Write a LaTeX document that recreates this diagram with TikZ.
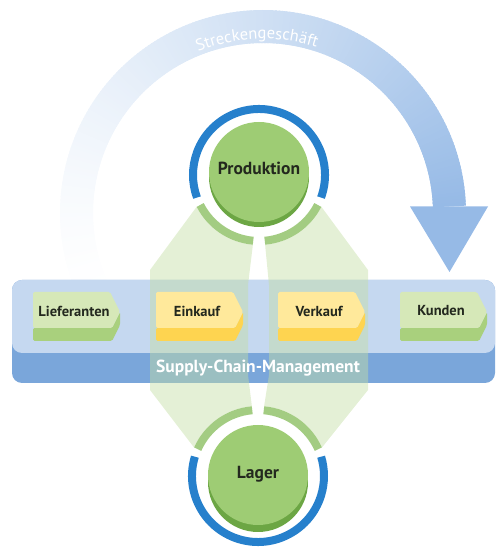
\documentclass[tikz,border=0pt]{standalone}
\usepackage{fontspec}
\setmainfont{PT Sans}
\usetikzlibrary{calc,decorations.text}

\definecolor{arcblue}{RGB}{150,186,230}
\definecolor{bandlight}{RGB}{197,216,240}
\definecolor{banddark}{RGB}{122,166,218}
\definecolor{ringblue}{RGB}{38,128,204}
\definecolor{ringgreen}{RGB}{163,204,130}
\definecolor{hexgreen}{RGB}{196,222,164}
\definecolor{disctop}{RGB}{158,204,116}
\definecolor{discrim}{RGB}{108,166,68}
\definecolor{boxgreen}{RGB}{214,232,184}
\definecolor{boxgreendark}{RGB}{169,208,125}
\definecolor{boxyellow}{RGB}{255,233,155}
\definecolor{boxyellowdark}{RGB}{254,212,80}
\definecolor{inktext}{RGB}{35,40,30}

\begin{document}
\begin{tikzpicture}[x=1pt, y=1pt]
    \tikzstyle{every node} = [align=center, inner sep=0pt, text=inktext]
    \tikzstyle{boxtext} = [font=\bfseries\fontsize{14.5}{14.5}\selectfont]
    \tikzstyle{disctext} = [font=\bfseries\fontsize{17.5}{17.5}\selectfont]
    \tikzstyle{bandtext} = [font=\bfseries\fontsize{17.5}{17.5}\selectfont, text=white]
    \tikzstyle{arcband} = [line width=33pt]
    \tikzstyle{bluering} = [draw=ringblue, line width=8pt]
    \tikzstyle{greenring} = [draw=ringgreen, line width=8pt]
    \tikzstyle{hex} = [fill=hexgreen, fill opacity=0.45]
    \useasboundingbox (0,0) rectangle (497,549);

    \coordinate (arcc) at (263,336);
    \coordinate (pc) at (259,374);
    \coordinate (lc) at (258,73);

    % Streckengeschaeft arc, fading to the left
    \foreach \a in {2,...,205} {
        \pgfmathsetmacro\p{100*(1-(\a-2)/203)^1.4}
        \draw[arcband, arcblue!\p!white] ($(arcc)+(\a:186.5)$) arc[start angle=\a, end angle=\a+1.6, radius=186.5];
    }
    \fill[arcblue] (410,342.5) -- (488,342.5) -- (449.5,277) -- cycle;
    \path[decorate, decoration={text along path, text color=white, text align=center,
        text={|\fontsize{16.5}{16.5}\selectfont|Streckengeschäft}}]
        ($(arcc)+(152:174)$) arc[start angle=152, end angle=32, radius=174];

    % band
    \fill[banddark, rounded corners=10pt] (12,166) rectangle (495,269);
    \fill[bandlight, rounded corners=10pt] (12,196) rectangle (495,269);

    % hexagons between Produktion and Lager
    \fill[hex] ($(pc)+(207:70)$) -- (150,279) -- (150,159) -- ($(lc)+(156:70)$)
        arc[start angle=156, end angle=95, radius=70] -- (248,174) -- (248,264)
        -- ($(pc)+(265:70)$) arc[start angle=265, end angle=207, radius=70] -- cycle;
    \fill[hex] ($(pc)+(333:70)$) -- (368,279) -- (368,159) -- ($(lc)+(24:70)$)
        arc[start angle=24, end angle=85, radius=70] -- (269,174) -- (269,264)
        -- ($(pc)+(275:70)$) arc[start angle=275, end angle=333, radius=70] -- cycle;
    \node[bandtext] (scm) at (258,181) {Supply-Chain-Management};

    % process steps
    \foreach \x/\name/\txt/\top/\side in {33/lieferanten/Lieferanten/boxgreen/boxgreendark,
            156/einkauf/Einkauf/boxyellow/boxyellowdark,
            278/verkauf/Verkauf/boxyellow/boxyellowdark,
            400/kunden/Kunden/boxgreen/boxgreendark} {
        \fill[\side, rounded corners=1.5pt] (\x,221) -- (\x+79,221) -- (\x+87,237) -- (\x+87,224)
            -- (\x+79,208) -- (\x,208) -- cycle;
        \fill[\top, rounded corners=1.5pt] (\x,257) -- (\x+77,257) -- (\x+87,237) -- (\x+79,221)
            -- (\x,221) -- cycle;
        \node[boxtext] (\name) at (\x+41,238) {\txt};
    }

    % Produktion
    \draw[bluering] ($(pc)+(-20:66)$) arc[start angle=-20, end angle=200, radius=66];
    \draw[greenring] ($(pc)+(207:66)$) arc[start angle=207, end angle=265, radius=66];
    \draw[greenring] ($(pc)+(275:66)$) arc[start angle=275, end angle=333, radius=66];
    \fill[discrim] (259,372) circle[radius=50];
    \fill[disctop] (259,377) circle[radius=50];
    \node[disctext] (produktion) at (259,381) {Produktion};

    % Lager
    \draw[bluering] ($(lc)+(163:66)$) arc[start angle=163, end angle=377, radius=66];
    \draw[greenring] ($(lc)+(95:66)$) arc[start angle=95, end angle=156, radius=66];
    \draw[greenring] ($(lc)+(24:66)$) arc[start angle=24, end angle=85, radius=66];
    \fill[discrim] (258,67) circle[radius=50];
    \fill[disctop] (258,74) circle[radius=50];
    \node[disctext] (lager) at (258,75) {Lager};
\end{tikzpicture}
\end{document}
